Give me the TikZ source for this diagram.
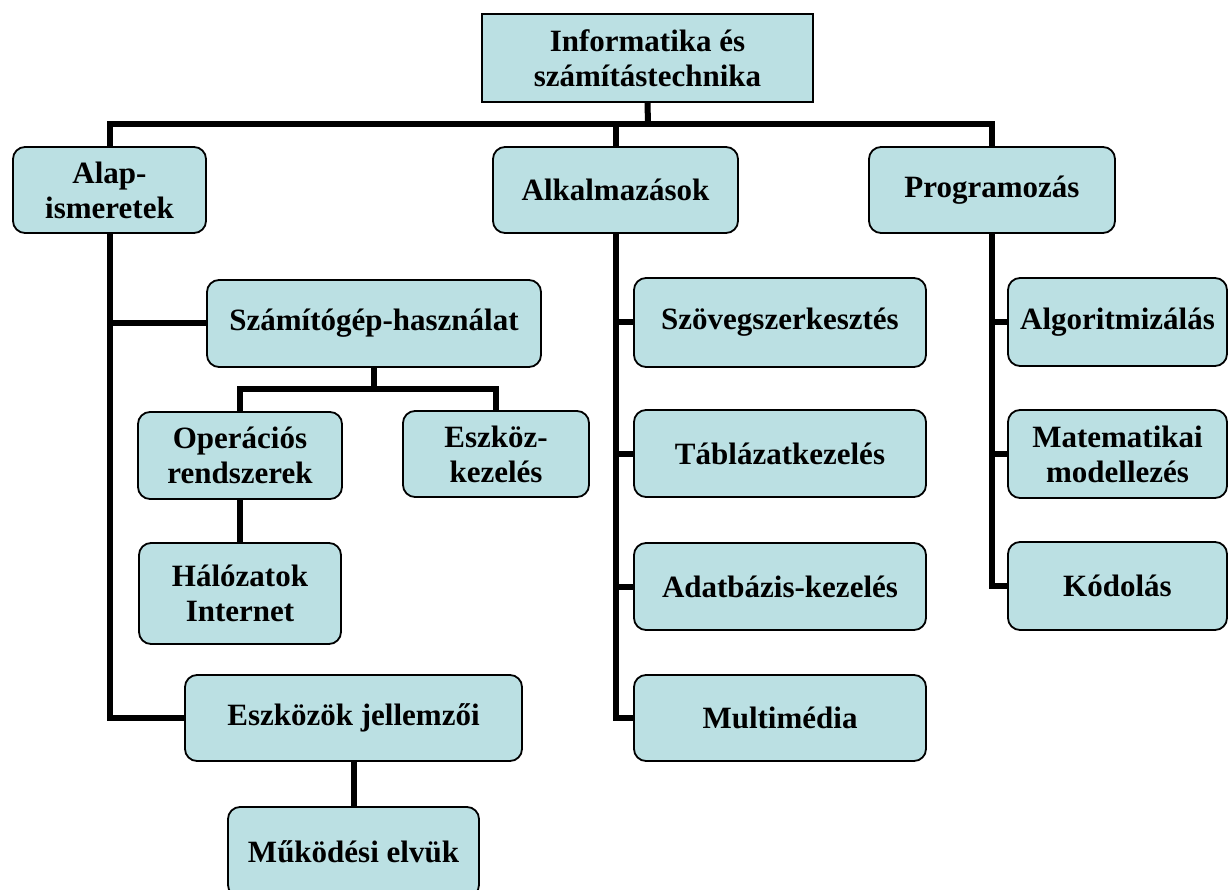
\documentclass[tikz,border=0pt]{standalone}
\usepackage{fontspec}
\setmainfont{Liberation Serif}
\definecolor{boxfill}{RGB}{187,224,227}

\begin{document}
\begin{tikzpicture}
[x=1pt, y=-1pt,
 box/.style={draw, line width=1.8pt, fill=boxfill, rounded corners=12pt, align=center,
   inner sep=0pt, font=\bfseries\fontsize{31}{35}\selectfont},
 link/.style={line width=6pt}]
\useasboundingbox (0,0) rectangle (1229,890);

\node[box, sharp corners, line width=1.4pt, minimum width=331, minimum height=88] (root) at (647.5,58) {Informatika és\\számítástechnika};

\node[box, minimum width=193, minimum height=86] (alap) at (109.5,190) {Alap-\\ismeretek};
\node[box, minimum width=245, minimum height=86] (alk) at (615.5,190) {Alkalmazások};
\node[box, minimum width=246, minimum height=86] (prog) at (992,190) {Programozás};

\node[box, minimum width=334, minimum height=87] (szam) at (374,323.5) {Számítógép-használat};
\node[box, minimum width=204, minimum height=87] (oper) at (240,455.5) {Operációs\\rendszerek};
\node[box, minimum width=186, minimum height=86] (eszk) at (496,454) {Eszköz-\\kezelés};
\node[box, minimum width=202, minimum height=101] (hal) at (240,593.5) {Hálózatok\\Internet};
\node[box, minimum width=337, minimum height=86] (jell) at (353.5,718) {Eszközök jellemzői};
\node[box, minimum width=251, minimum height=90] (muk) at (353.5,852) {Működési elvük};

\node[box, minimum width=292, minimum height=89] (szov) at (780,322.5) {Szövegszerkesztés};
\node[box, minimum width=292, minimum height=87] (tab) at (780,453.5) {Táblázatkezelés};
\node[box, minimum width=292, minimum height=87] (adat) at (780,586.5) {Adatbázis-kezelés};
\node[box, minimum width=292, minimum height=86] (multi) at (780,718) {Multimédia};

\node[box, minimum width=219, minimum height=88] (algo) at (1117.5,322) {Algoritmizálás};
\node[box, minimum width=219, minimum height=88] (mat) at (1117.5,454) {Matematikai\\modellezés};
\node[box, minimum width=219, minimum height=88] (kod) at (1117.5,586) {Kódolás};

\coordinate (bus) at (648,124);
\coordinate (fork) at (374,389);

\draw[link] (root.south) -- (bus);
\foreach \to in {alap,alk,prog}
\draw[link] (bus) -| (\to.north);
\foreach \to in {szam,jell}
\draw[link] (alap.south) |- (\to.west);
\draw[link] (szam.south) -- (fork);
\foreach \to in {oper,eszk}
\draw[link] (fork) -| (\to.north);
\draw[link] (oper.south) -- (hal.north);
\draw[link] (jell.south) -- (muk.north);
\foreach \to in {szov,tab,adat,multi}
\draw[link] (alk.south) |- (\to.west);
\foreach \to in {algo,mat,kod}
\draw[link] (prog.south) |- (\to.west);
\end{tikzpicture}
\end{document}
